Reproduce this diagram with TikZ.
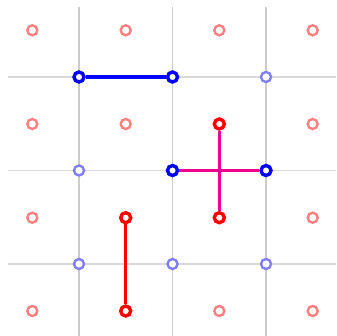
\documentclass[tikz,border=0pt]{standalone}
\definecolor{gridv}{HTML}{CCCCCC}
\definecolor{gridh}{HTML}{DADADA}
\definecolor{fadered}{HTML}{FF8080}
\definecolor{fadeblue}{HTML}{8080FF}
\definecolor{deeppink}{HTML}{EE008C}
\begin{document}
\begin{tikzpicture}[x=1pt,y=-1pt,
  dot/.style={circle,inner sep=0pt,minimum size=10pt,fill=white},
  fr/.style={dot,draw=fadered,line width=2.4pt},
  fb/.style={dot,draw=fadeblue,line width=2.4pt},
  br/.style={dot,draw=red,line width=3.4pt},
  bb/.style={dot,draw=blue,line width=3.4pt},
  link/.style={line width=3.4pt}]
\useasboundingbox (0,0) rectangle (336,336);
\fill[white] (0,0) rectangle (336,336);
% grid
\foreach \x in {79,172.5,266} \draw[gridv,line width=1.6pt] (\x,7) -- (\x,336);
\foreach \y in {77,170.5,264} \draw[gridh,line width=1.8pt] (8,\y) -- (336,\y);
% faded red cell dots
\node[fr] (r11) at (32.3,30.3) {};
\node[fr] (r21) at (125.7,30.3) {};
\node[fr] (r31) at (219.3,30.3) {};
\node[fr] (r41) at (312.7,30.3) {};
\node[fr] (r12) at (32.3,124) {};
\node[fr] (r22) at (125.7,124) {};
\node[fr] (r42) at (312.7,124) {};
\node[fr] (r13) at (32.3,217.7) {};
\node[fr] (r43) at (312.7,217.7) {};
\node[fr] (r14) at (32.3,311) {};
\node[fr] (r34) at (219.3,311) {};
\node[fr] (r44) at (312.7,311) {};
% bold red dots
\node[br] (R32) at (219.3,124) {};
\node[br] (R33) at (219.3,217.7) {};
\node[br] (R23) at (125.7,217.7) {};
\node[br] (R24) at (125.7,311) {};
% faded blue vertices
\node[fb] (b31) at (266,77) {};
\node[fb] (b12) at (79,170.5) {};
\node[fb] (b13) at (79,264) {};
\node[fb] (b23) at (172.5,264) {};
\node[fb] (b33) at (266,264) {};
% bold blue vertices
\node[bb] (B11) at (79,77) {};
\node[bb] (B21) at (172.5,77) {};
\node[bb] (B22) at (172.5,170.5) {};
\node[bb] (B32) at (266,170.5) {};
% links
\draw[link,blue] (B11) -- (B21);
\draw[link,red] (R23) -- (R24);
\draw[link,deeppink] (B22) -- (B32);
\draw[link,deeppink] (R32) -- (R33);
\end{tikzpicture}
\end{document}
